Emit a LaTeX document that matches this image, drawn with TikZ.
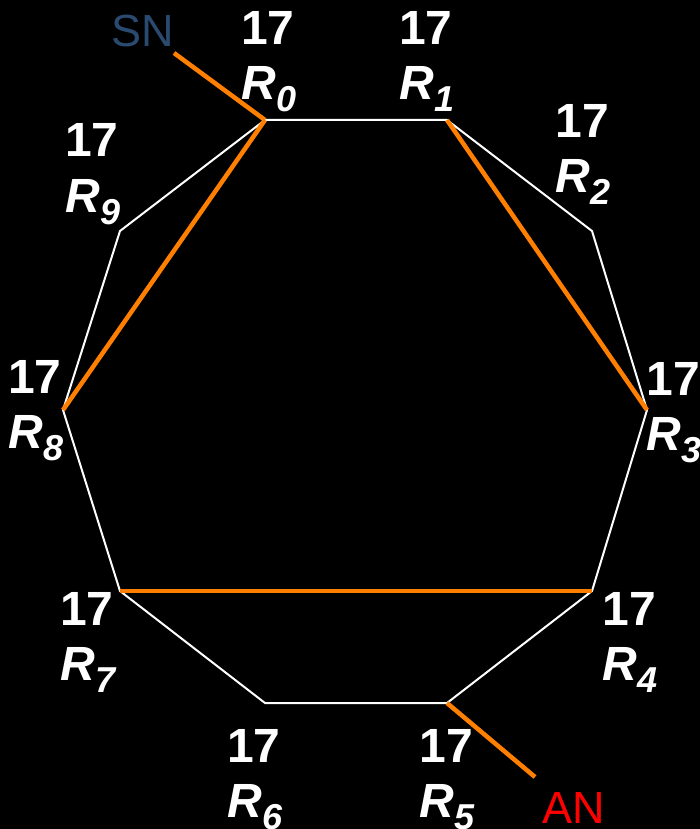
\documentclass[tikz,border=0pt]{standalone}
\usepackage{fontspec}
\setmainfont{Liberation Sans}
\definecolor{edgeorange}{HTML}{FF7F00}
\definecolor{snblue}{HTML}{2B4A70}
\definecolor{anred}{HTML}{FF0000}
\begin{document}
\begin{tikzpicture}[x=1pt,y=-1pt,
  ring/.style={draw=white, line width=2pt, line join=miter},
  route/.style={draw=edgeorange, line width=4.5pt, line cap=butt},
  num/.style={text=white, font=\fontsize{48}{48}\selectfont\bfseries, anchor=base, inner sep=0pt},
  rname/.style={text=white, font=\fontsize{48}{48}\selectfont\bfseries\itshape, anchor=base, inner sep=0pt},
  endlabel/.style={font=\fontsize{45}{45}\selectfont, anchor=base, inner sep=0pt}]
\fill[black] (0,0) rectangle (700,829);
\useasboundingbox (0,0) rectangle (700,829);
% vertices
\coordinate (R0) at (265,120);
\coordinate (R1) at (447,120);
\coordinate (R2) at (592,231);
\coordinate (R3) at (647,410);
\coordinate (R4) at (592,591);
\coordinate (R5) at (447,703);
\coordinate (R6) at (265,703);
\coordinate (R7) at (120,591);
\coordinate (R8) at (63,410);
\coordinate (R9) at (120,231);
\coordinate (snend) at (174,53);
\coordinate (anend) at (535,777);
% ring
\draw[ring] (R0) -- (R1) -- (R2) -- (R3) -- (R4) -- (R5) -- (R6) -- (R7) -- (R8) -- (R9) -- cycle;
% route
\draw[route] (snend) -- (R0);
\draw[route] (R0) -- (R8);
\draw[route] (R1) -- (R3);
\draw[route] (R7) -- (R4);
\draw[route] (R5) -- (anend);
% end labels
\node[endlabel, text=snblue] (sn) at (143,47) {SN};
\node[endlabel, text=anred] (an) at (574,823) {AN};
% vertex labels
\newcommand{\vlabel}[4]{%
  \node[num] (n#1) at (#2,#3) {17};
  \node[rname] (r#1) at (#2+1,#3+55) {R\raisebox{-12pt}{\fontsize{36}{36}\selectfont #4}};
}
\vlabel{0}{268}{45}{0}
\vlabel{1}{426}{45}{1}
\vlabel{2}{582}{138}{2}
\vlabel{3}{673}{395}{3}
\vlabel{4}{629}{625}{4}
\vlabel{5}{446}{762}{5}
\vlabel{6}{254}{762}{6}
\vlabel{7}{87}{625}{7}
\vlabel{8}{35}{393}{8}
\vlabel{9}{92}{157}{9}
\end{tikzpicture}
\end{document}
